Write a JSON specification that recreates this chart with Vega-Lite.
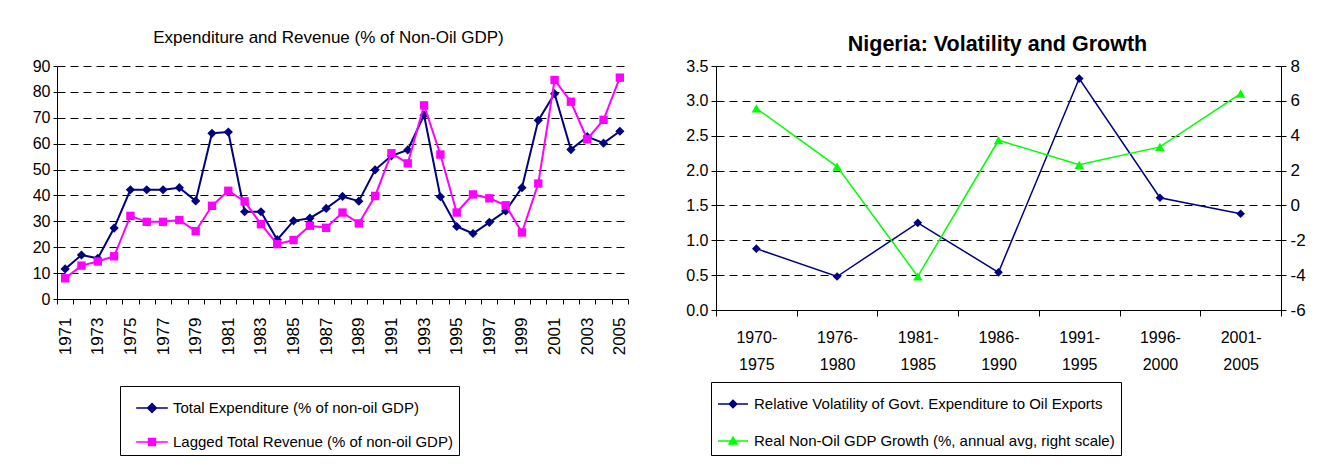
{
  "$schema": "https://vega.github.io/schema/vega-lite/v6.json",
  "background": "white",
  "padding": {"left": 32, "top": 29, "right": 0, "bottom": 0},
  "spacing": 56,
  "config": {
    "view": {"stroke": null},
    "font": "Liberation Sans",
    "title": {"color": "#000"},
    "axis": {
      "labelFont": "Liberation Sans",
      "labelColor": "#000",
      "domainColor": "#000",
      "tickColor": "#000",
      "gridColor": "#000",
      "gridDash": [8, 5],
      "gridOpacity": 1,
      "gridWidth": 1,
      "domainWidth": 1,
      "tickWidth": 1,
      "title": null
    }
  },
  "resolve": {"scale": {"color": "independent"}, "legend": {"color": "independent"}},
  "hconcat": [
    {
      "width": 571,
      "height": 233,
      "title": {"text": "Expenditure and Revenue (% of Non-Oil GDP)", "fontSize": 17, "fontWeight": "normal", "font": "Liberation Sans", "anchor": "middle", "frame": "group", "offset": -2, "baseline": "alphabetic", "dx": -14},
      "data": {"values": [
        {"year": 1971, "exp": 11.6, "rev": 8.0},
        {"year": 1972, "exp": 17.0, "rev": 12.9},
        {"year": 1973, "exp": 15.7, "rev": 14.5},
        {"year": 1974, "exp": 27.4, "rev": 16.5},
        {"year": 1975, "exp": 42.2, "rev": 32.1},
        {"year": 1976, "exp": 42.2, "rev": 29.8},
        {"year": 1977, "exp": 42.2, "rev": 29.8},
        {"year": 1978, "exp": 43.0, "rev": 30.5},
        {"year": 1979, "exp": 37.9, "rev": 26.2},
        {"year": 1980, "exp": 64.0, "rev": 36.0},
        {"year": 1981, "exp": 64.5, "rev": 41.8},
        {"year": 1982, "exp": 33.7, "rev": 37.7},
        {"year": 1983, "exp": 33.7, "rev": 28.9},
        {"year": 1984, "exp": 22.9, "rev": 21.2},
        {"year": 1985, "exp": 30.2, "rev": 22.8},
        {"year": 1986, "exp": 31.2, "rev": 28.3},
        {"year": 1987, "exp": 35.0, "rev": 27.5},
        {"year": 1988, "exp": 39.6, "rev": 33.4},
        {"year": 1989, "exp": 37.8, "rev": 29.2},
        {"year": 1990, "exp": 49.9, "rev": 39.8},
        {"year": 1991, "exp": 55.3, "rev": 56.3},
        {"year": 1992, "exp": 57.6, "rev": 52.4},
        {"year": 1993, "exp": 71.0, "rev": 74.8},
        {"year": 1994, "exp": 39.5, "rev": 55.8},
        {"year": 1995, "exp": 28.0, "rev": 33.4},
        {"year": 1996, "exp": 25.3, "rev": 40.4},
        {"year": 1997, "exp": 29.6, "rev": 38.9},
        {"year": 1998, "exp": 34.0, "rev": 36.2},
        {"year": 1999, "exp": 43.0, "rev": 25.7},
        {"year": 2000, "exp": 69.0, "rev": 44.6},
        {"year": 2001, "exp": 79.3, "rev": 84.6},
        {"year": 2002, "exp": 57.7, "rev": 76.2},
        {"year": 2003, "exp": 62.7, "rev": 61.7},
        {"year": 2004, "exp": 60.2, "rev": 69.2},
        {"year": 2005, "exp": 64.8, "rev": 85.5}
      ]},
      "transform": [{"fold": ["exp", "rev"], "as": ["series", "value"]}],
      "encoding": {
        "x": {
          "field": "year", "type": "ordinal", "bandPosition": 0.5,
          "scale": {"type": "band", "paddingInner": 0, "paddingOuter": 0},
          "axis": {"labelAngle": -90, "labelFontSize": 17, "labelExpr": "datum.value % 2 == 1 ? datum.label : ''", "labelOverlap": false, "tickBand": "extent", "tickSize": 5, "labelPadding": 13, "grid": false, "labelAlign": "right", "labelBaseline": "middle"}
        },
        "y": {
          "field": "value", "type": "quantitative",
          "scale": {"domain": [0, 90], "nice": false},
          "axis": {"values": [0, 10, 20, 30, 40, 50, 60, 70, 80, 90], "grid": true, "tickSize": 4, "labelFontSize": 16, "labelPadding": 3, "domain": true}
        },
        "color": {
          "field": "series", "type": "nominal",
          "scale": {"domain": ["exp", "rev"], "range": ["#000080", "#FF00FF"]},
          "legend": {
            "title": null, "orient": "none", "direction": "vertical", "legendX": 63, "legendY": 320,
            "strokeColor": "#000", "fillColor": "#fff", "padding": 5, "symbolOffset": 10, "symbolSize": 1000,
            "symbolStrokeWidth": 1.5, "labelOffset": 4, "rowPadding": 9,
            "labelFont": "Liberation Sans", "labelFontSize": 15, "labelColor": "#000", "labelLimit": 600,
            "labelExpr": "datum.value == 'exp' ? 'Total Expenditure (% of non-oil GDP)' : 'Lagged Total Revenue (% of non-oil GDP)'",
            "encode": {"symbols": {"update": {
              "shape": {"signal": "datum.value == 'exp' ? 'M-1,0L1,0M0,-0.28L0.28,0L0,0.28L-0.28,0Z' : 'M-1,0L1,0M-0.22,-0.22L0.22,-0.22L0.22,0.22L-0.22,0.22Z'"},
              "fill": {"signal": "datum.value == 'exp' ? '#000080' : '#FF00FF'"},
              "stroke": {"signal": "datum.value == 'exp' ? '#000080' : '#FF00FF'"},
              "opacity": {"value": 1},
              "fillOpacity": {"value": 1},
              "strokeOpacity": {"value": 1}
            }}}
          }
        }
      },
      "layer": [
        {"transform": [{"filter": "datum.series == 'exp'"}], "mark": {"type": "line", "strokeWidth": 2}},
        {"transform": [{"filter": "datum.series == 'exp'"}], "mark": {"type": "point", "shape": "diamond", "filled": true, "size": 85, "opacity": 1}},
        {"transform": [{"filter": "datum.series == 'rev'"}], "mark": {"type": "line", "strokeWidth": 2}},
        {"transform": [{"filter": "datum.series == 'rev'"}], "mark": {"type": "square", "filled": true, "size": 70, "opacity": 1}}
      ]
    },
    {
      "width": 565,
      "height": 244,
      "title": {"text": "Nigeria: Volatility and Growth", "fontSize": 21.5, "fontWeight": "bold", "font": "Liberation Sans", "anchor": "middle", "frame": "group", "offset": -15, "baseline": "alphabetic", "dx": -1},
      "data": {"values": [
        {"period": "1970-1975", "vol": 0.88, "growth": 5.57},
        {"period": "1976-1980", "vol": 0.48, "growth": 2.23},
        {"period": "1981-1985", "vol": 1.25, "growth": -4.07},
        {"period": "1986-1990", "vol": 0.54, "growth": 3.74},
        {"period": "1991-1995", "vol": 3.32, "growth": 2.33},
        {"period": "1996-2000", "vol": 1.61, "growth": 3.36},
        {"period": "2001-2005", "vol": 1.38, "growth": 6.41}
      ]},
      "encoding": {
        "x": {
          "field": "period", "type": "nominal", "bandPosition": 0.5, "sort": null,
          "scale": {"type": "band", "paddingInner": 0, "paddingOuter": 0},
          "axis": {"labelAngle": 0, "labelFont": "Liberation Sans", "labelFontSize": 16, "labelLineHeight": 27, "labelExpr": "[slice(datum.label, 0, 5), slice(datum.label, 5)]", "tickBand": "extent", "tickSize": 6, "labelPadding": 13, "grid": false}
        }
      },
      "layer": [
        {
          "encoding": {
            "y": {"field": "vol", "type": "quantitative", "scale": {"domain": [0, 3.5], "nice": false}, "axis": {"values": [0, 0.5, 1, 1.5, 2, 2.5, 3, 3.5], "format": ".1f", "grid": true, "tickSize": 5, "labelFontSize": 16, "labelPadding": 3}},
            "color": {
              "datum": "vol", "type": "nominal",
              "scale": {"domain": ["vol", "growth"], "range": ["#000080", "#00FF00"]},
              "legend": {
                "title": null, "orient": "none", "direction": "vertical", "legendX": -5, "legendY": 316,
                "strokeColor": "#000", "fillColor": "#fff", "padding": 6, "symbolOffset": 0, "symbolSize": 900,
                "symbolStrokeWidth": 1.5, "labelOffset": 5, "rowPadding": 13,
                "labelFont": "Liberation Sans", "labelFontSize": 15, "labelColor": "#000", "labelLimit": 600,
                "labelExpr": "datum.value == 'vol' ? 'Relative Volatility of Govt. Expenditure to Oil Exports' : 'Real Non-Oil GDP Growth (%, annual avg, right scale)'",
                "encode": {"symbols": {"update": {
                  "shape": {"signal": "datum.value == 'vol' ? 'M-1,0L1,0M0,-0.25L0.25,0L0,0.25L-0.25,0Z' : 'M-1,0L1,0M0,-0.25L0.27,0.2L-0.27,0.2Z'"},
                  "fill": {"signal": "datum.value == 'vol' ? '#000080' : '#00FF00'"},
                  "stroke": {"signal": "datum.value == 'vol' ? '#000080' : '#00FF00'"},
                  "opacity": {"value": 1},
                  "fillOpacity": {"value": 1},
                  "strokeOpacity": {"value": 1}
                }}}
              }
            }
          },
          "layer": [
            {"mark": {"type": "line", "strokeWidth": 1.5}},
            {"mark": {"type": "point", "shape": "diamond", "filled": true, "size": 75, "opacity": 1}}
          ]
        },
        {
          "encoding": {
            "y": {"field": "growth", "type": "quantitative", "scale": {"domain": [-6, 8], "nice": false, "zero": false}, "axis": {"orient": "right", "values": [-6, -4, -2, 0, 2, 4, 6, 8], "labelExpr": "'' + datum.value", "grid": false, "tickSize": 5, "labelFontSize": 17, "labelPadding": 4}},
            "color": {"datum": "growth", "type": "nominal"}
          },
          "layer": [
            {"mark": {"type": "line", "strokeWidth": 1.5}},
            {"mark": {"type": "point", "shape": "triangle-up", "filled": true, "size": 90, "opacity": 1}}
          ]
        }
      ],
      "resolve": {"scale": {"y": "independent"}}
    }
  ]
}
